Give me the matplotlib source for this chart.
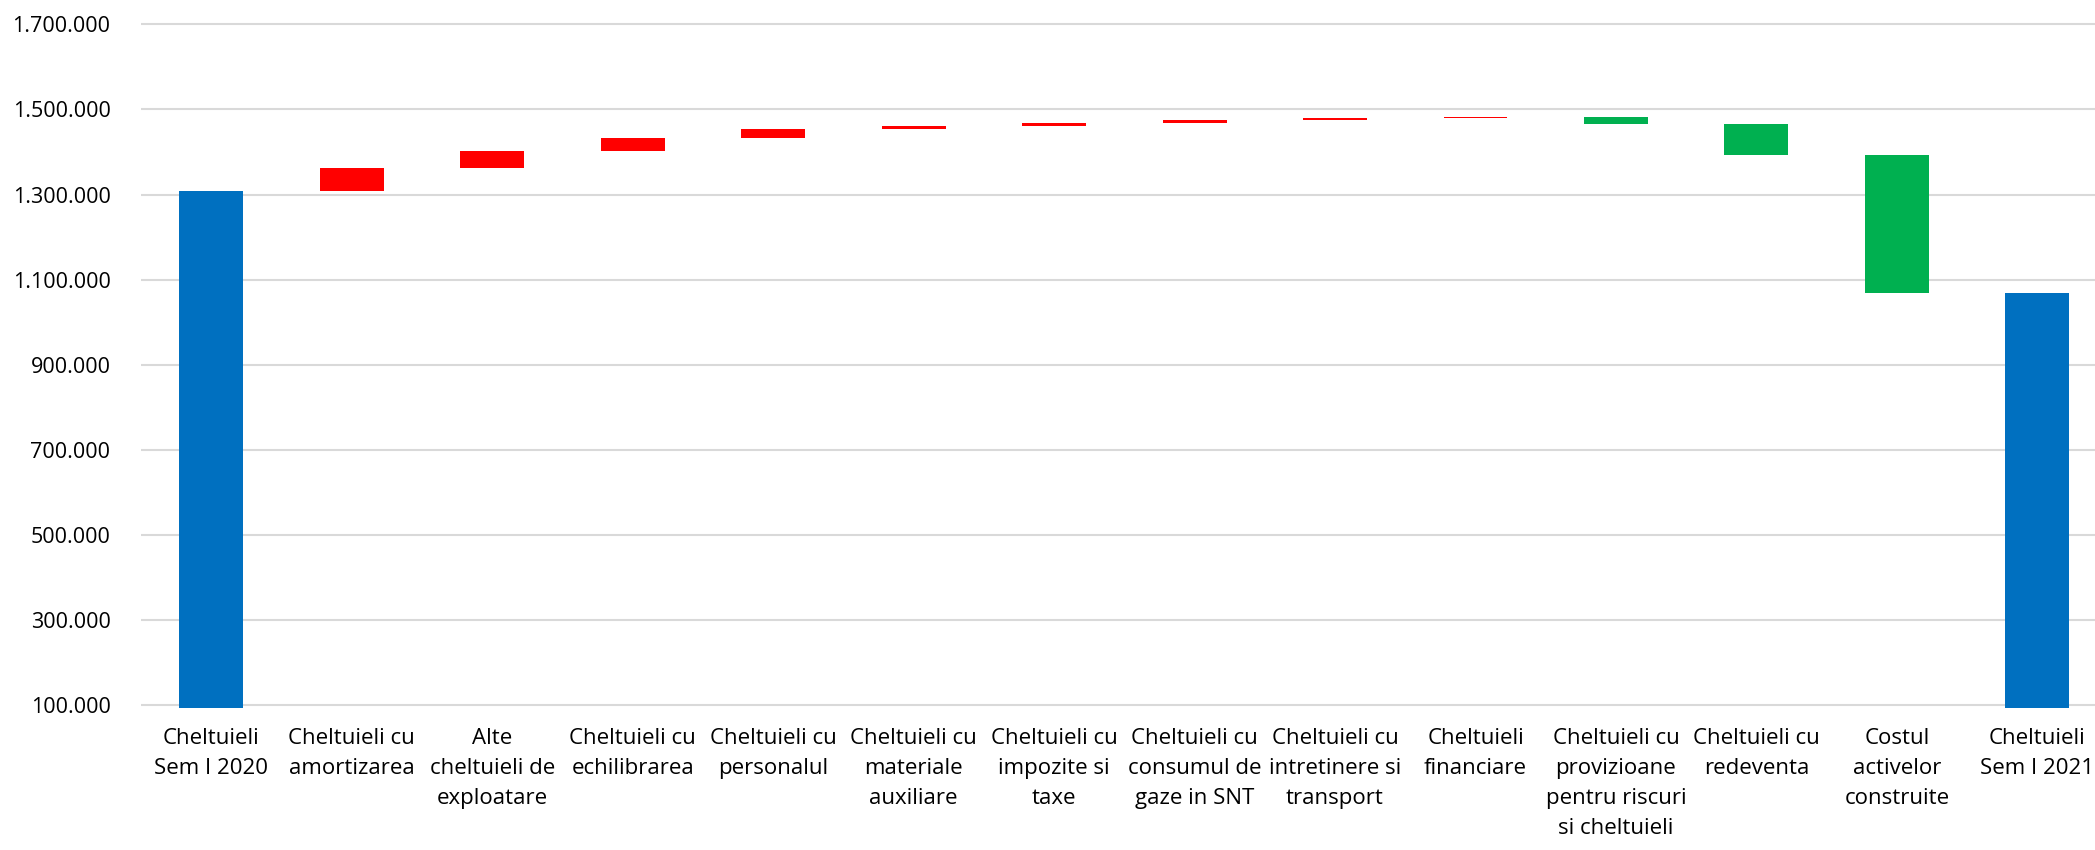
import matplotlib
matplotlib.use("Agg")
import matplotlib.pyplot as plt
from matplotlib.ticker import FuncFormatter

labels = [
    "Cheltuieli\nSem I 2020",
    "Cheltuieli cu\namortizarea",
    "Alte\ncheltuieli de\nexploatare",
    "Cheltuieli cu\nechilibrarea",
    "Cheltuieli cu\npersonalul",
    "Cheltuieli cu\nmateriale\nauxiliare",
    "Cheltuieli cu\nimpozite si\ntaxe",
    "Cheltuieli cu\nconsumul de\ngaze in SNT",
    "Cheltuieli cu\nintretinere si\ntransport",
    "Cheltuieli\nfinanciare",
    "Cheltuieli cu\nprovizioane\npentru riscuri\nsi cheltuieli",
    "Cheltuieli cu\nredeventa",
    "Costul\nactivelor\nconstruite",
    "Cheltuieli\nSem I 2021",
]
start_total = 1309000
deltas = [53000, 41000, 29000, 22000, 8000, 7000, 6000, 6000, 2000,
          -18000, -71000, -326000]
end_total = 1068000

BLUE = "#0070C0"
RED = "#FF0000"
GREEN = "#00B050"

plt.rcParams["font.family"] = ["Open Sans", "DejaVu Sans"]

fig = plt.figure(figsize=(20.95, 8.5), dpi=100)
ax = fig.add_axes([0.0673, 0.1675, 1 - 0.0673, 0.8089])

width = 0.455
ax.bar(0, start_total, width=width, color=BLUE, zorder=2)
level = start_total
for i, d in enumerate(deltas, start=1):
    color = RED if d > 0 else GREEN
    ax.bar(i, abs(d), bottom=min(level, level + d), width=width, color=color, zorder=2)
    level += d
ax.bar(len(labels) - 1, end_total, width=width, color=BLUE, zorder=2)

ax.set_ylim(95000, 1710000)
ax.set_xlim(-0.5, 13.41)
ax.set_yticks(range(100000, 1700001, 200000))
ax.yaxis.set_major_formatter(FuncFormatter(lambda v, p: f"{int(v):,}".replace(",", ".")))
ax.grid(axis="y", color="#D9D9D9", linewidth=1.5, zorder=0)
ax.set_xticks(range(len(labels)))
ax.set_xticklabels(labels, fontsize=16, linespacing=1.55, va="top")
for s in ax.spines.values():
    s.set_visible(False)
ax.tick_params(axis="y", length=0, pad=22, labelsize=15.5)
ax.tick_params(axis="x", length=0, pad=15)

fig.savefig("out.png", dpi=100)
